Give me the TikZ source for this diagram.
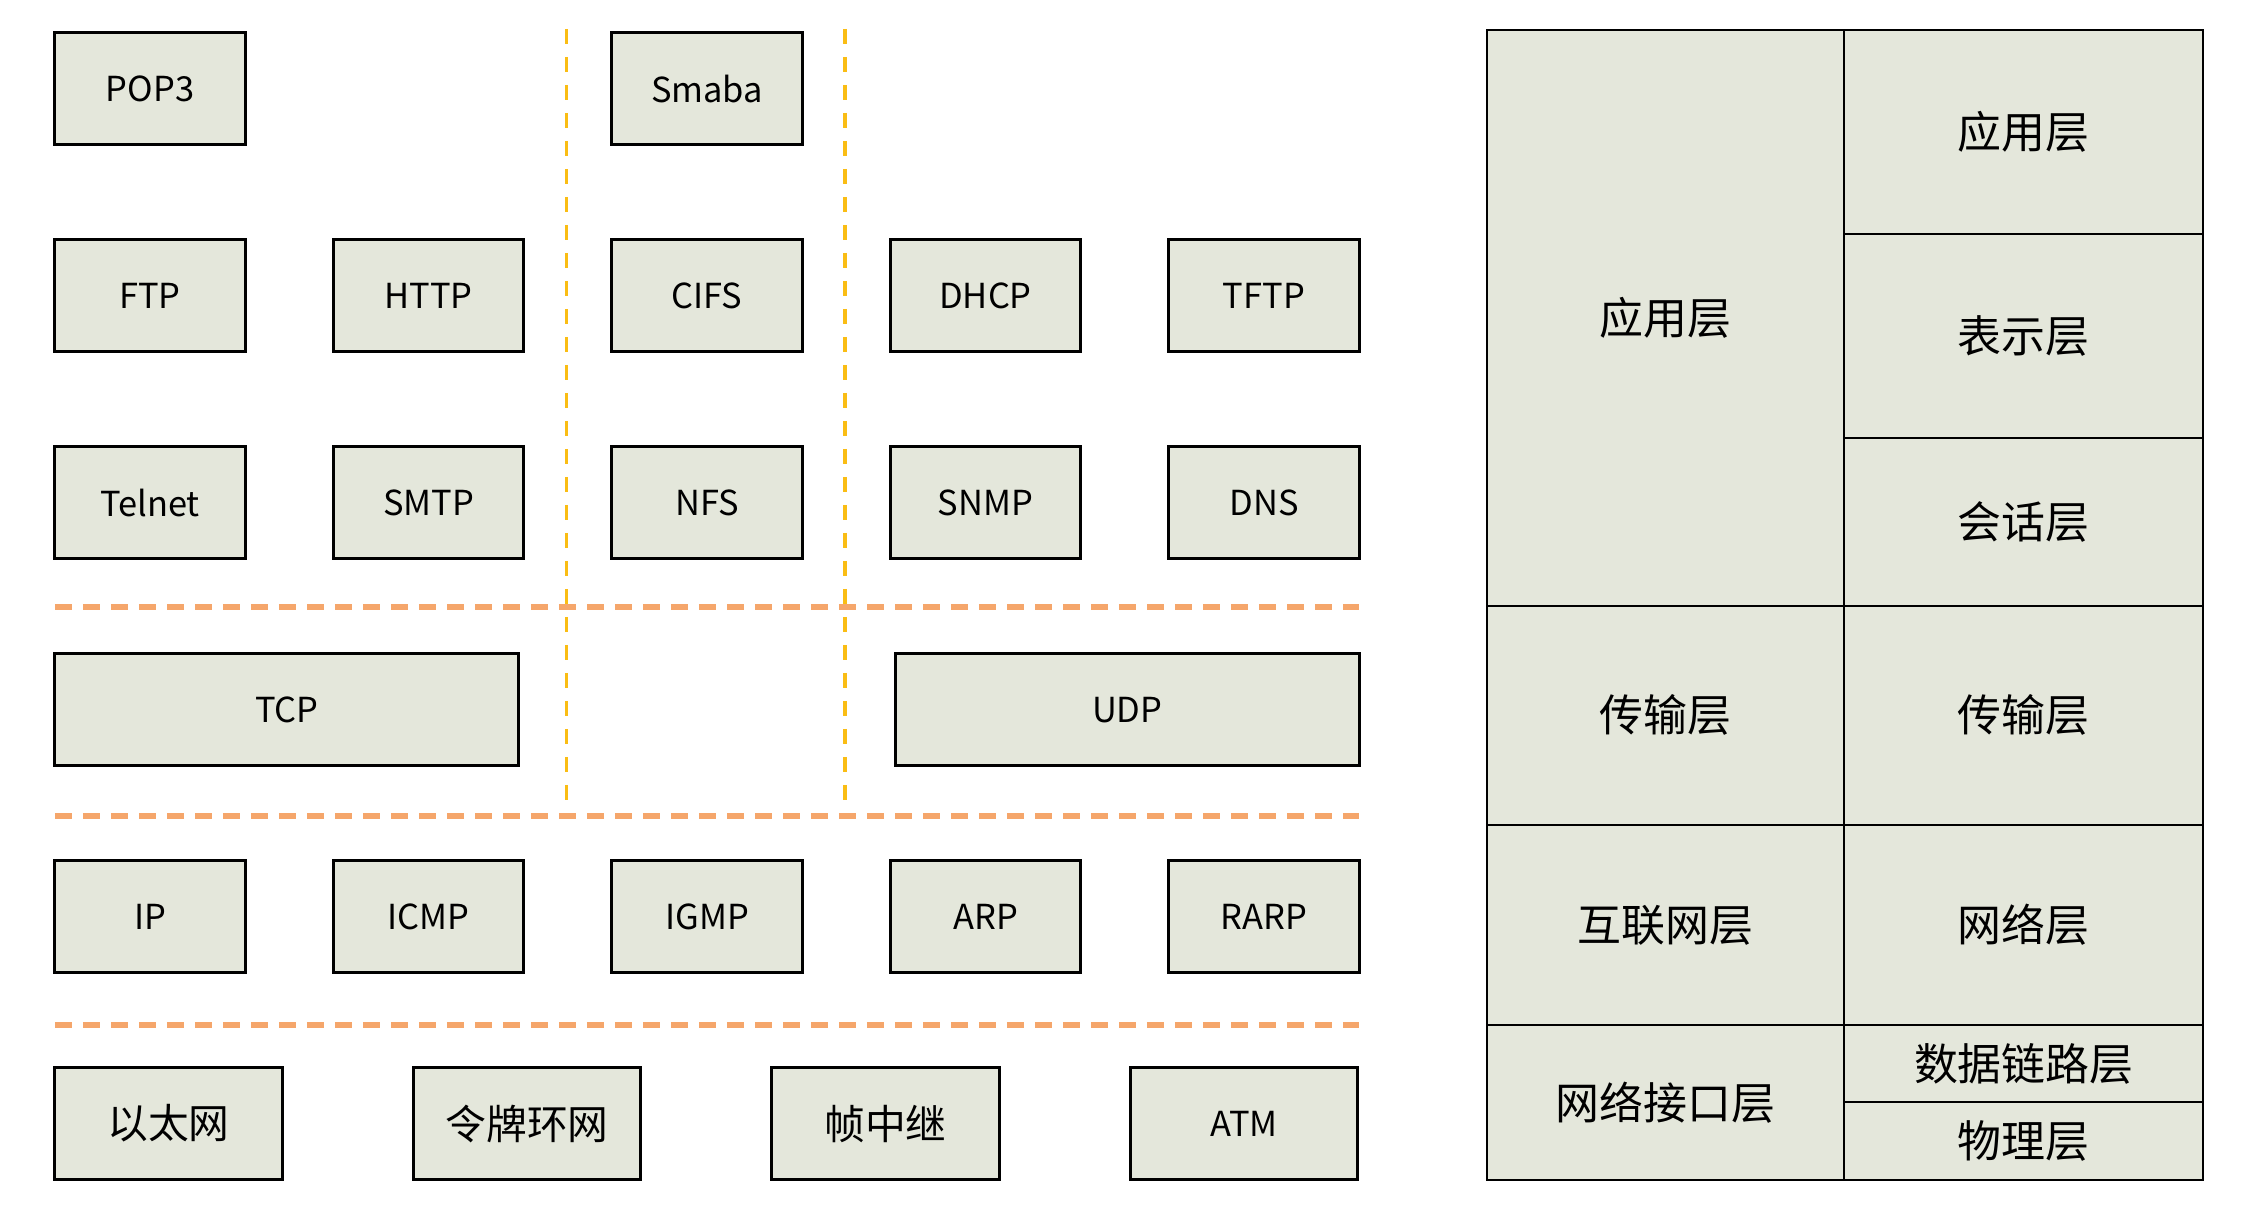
\documentclass[tikz,border=0pt]{standalone}
\usepackage{fontspec}
\setmainfont{Noto Sans CJK SC}
\usepackage{tikz}
\usetikzlibrary{positioning}
\usepackage{xcolor}
\definecolor{boxfill}{HTML}{E4E7DB}
\definecolor{hsepcol}{HTML}{F5A66B}
\definecolor{vsepcol}{HTML}{FABD14}

\tikzset{
  proto/.style={draw, line width=0.8pt, fill=boxfill, inner sep=0pt, outer sep=0pt,
    minimum width=1.905cm, minimum height=1.115cm, font=\fontsize{9.8}{12}\selectfont},
  linkbox/.style={proto, minimum width=2.275cm, font=\fontsize{11.6}{13}\selectfont},
  layer/.style={draw, line width=0.6pt, fill=boxfill, inner sep=0pt, outer sep=0pt,
    font=\fontsize{12.5}{14}\selectfont},
  hsep/.style={draw=hsepcol, line width=1.5pt, dash pattern=on 0.17cm off 0.11cm},
  vsep/.style={draw=vsepcol, line width=0.9pt, dash pattern=on 0.15cm off 0.13cm}
}

\begin{document}
\begin{tikzpicture}[node distance=0.955cm and 0.88cm]
  \useasboundingbox (0,0) rectangle (22.61,-12.13);

  % 应用层协议
  \node (pop3) [proto] at (1.50,-0.886) {POP3};
  \node (ftp) [proto, below=of pop3] {FTP};
  \node (http) [proto, right=of ftp] {HTTP};
  \node (cifs) [proto, right=of http] {CIFS};
  \node (dhcp) [proto, right=of cifs] {DHCP};
  \node (tftp) [proto, right=of dhcp] {TFTP};
  \node (smaba) [proto, above=of cifs] {Smaba};

  \node (telnet) [proto, below=of ftp] {Telnet};
  \node (smtp) [proto, right=of telnet] {SMTP};
  \node (nfs) [proto, right=of smtp] {NFS};
  \node (snmp) [proto, right=of nfs] {SNMP};
  \node (dns) [proto, right=of snmp] {DNS};

  % 传输层协议
  \node (tcp) [proto, minimum width=4.64cm, below=of telnet.south west, anchor=north west] {TCP};
  \node (udp) [proto, minimum width=4.64cm, below=of dns.south east, anchor=north east] {UDP};

  % 互联网层协议
  \node (ip) [proto, below=of tcp.south west, anchor=north west] {IP};
  \node (icmp) [proto, right=of ip] {ICMP};
  \node (igmp) [proto, right=of icmp] {IGMP};
  \node (arp) [proto, right=of igmp] {ARP};
  \node (rarp) [proto, right=of arp] {RARP};

  % 网络接口层
  \node (eth) [linkbox, below=of ip.south west, anchor=north west] {以太网};
  \node (token) [linkbox, right=1.31cm of eth] {令牌环网};
  \node (frame) [linkbox, right=1.31cm of token] {帧中继};
  \node (atm) [linkbox, font=\fontsize{9.8}{12}\selectfont, right=1.31cm of frame] {ATM};

  % 分隔线
  \draw[hsep] (telnet.west |- 0,-6.07) -- (dns.east |- 0,-6.07);
  \draw[hsep] (telnet.west |- 0,-8.16) -- (dns.east |- 0,-8.16);
  \draw[hsep] (telnet.west |- 0,-10.25) -- (dns.east |- 0,-10.25);
  \draw[vsep] (5.667,-0.29) -- (5.667,-8.02);
  \draw[vsep] (8.45,-0.29) -- (8.45,-8.02);

  % OSI 七层
  \node (osi-app) [layer, minimum width=3.59cm, minimum height=2.033cm, anchor=north west] at (18.443,-0.303) {应用层};
  \node (osi-pre) [layer, minimum width=3.59cm, minimum height=2.048cm, below=0pt of osi-app] {表示层};
  \node (osi-ses) [layer, minimum width=3.59cm, minimum height=1.672cm, below=0pt of osi-pre] {会话层};
  \node (osi-tra) [layer, minimum width=3.59cm, minimum height=2.192cm, below=0pt of osi-ses] {传输层};
  \node (osi-net) [layer, minimum width=3.59cm, minimum height=2.005cm, below=0pt of osi-tra] {网络层};
  \node (osi-dl) [layer, minimum width=3.59cm, minimum height=0.764cm, below=0pt of osi-net] {数据链路层};
  \node (osi-phy) [layer, minimum width=3.59cm, minimum height=0.779cm, below=0pt of osi-dl] {物理层};

  % TCP/IP 四层
  \node (tcpip-app) [layer, minimum width=3.576cm, minimum height=5.753cm, anchor=north east] at (osi-app.north west) {应用层};
  \node (tcpip-tra) [layer, minimum width=3.576cm, minimum height=2.192cm, below=0pt of tcpip-app] {传输层};
  \node (tcpip-int) [layer, minimum width=3.576cm, minimum height=2.005cm, below=0pt of tcpip-tra] {互联网层};
  \node (tcpip-nif) [layer, minimum width=3.576cm, minimum height=1.543cm, below=0pt of tcpip-int] {网络接口层};
\end{tikzpicture}
\end{document}
